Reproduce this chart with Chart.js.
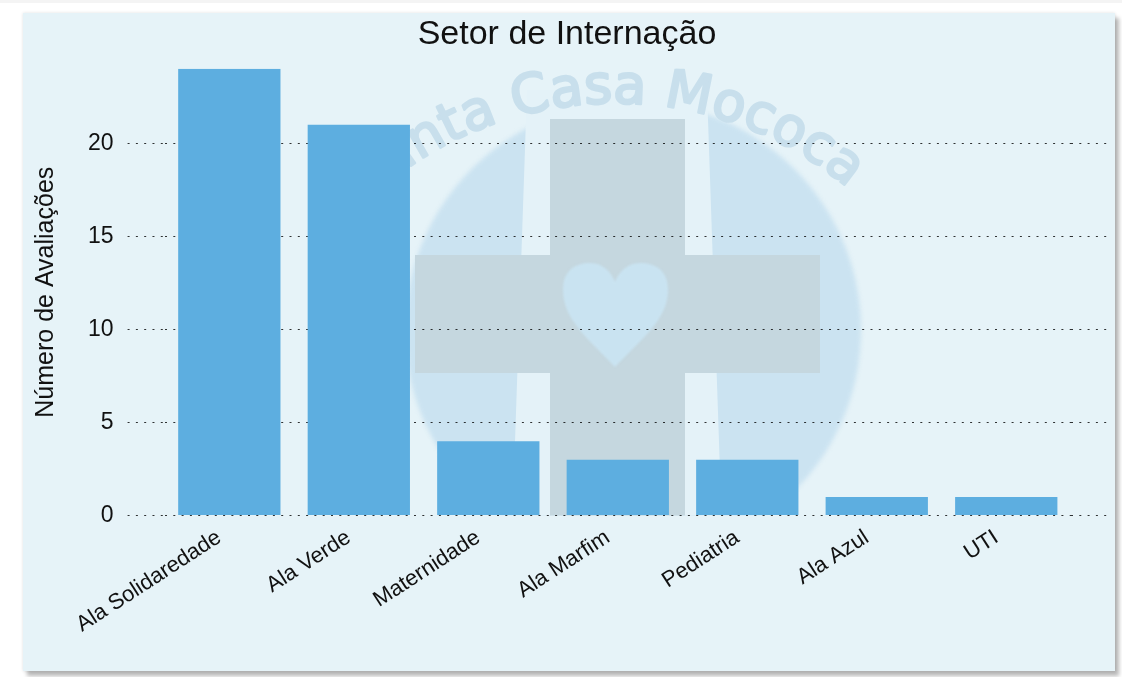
<!DOCTYPE html>
<html>
<head>
<meta charset="utf-8">
<script src="https://cdn.jsdelivr.net/npm/chart.js@4/dist/chart.umd.min.js"></script>
<style>
  html, body { margin: 0; padding: 0; background: #fff; }
  #wrap { position: relative; width: 1122px; height: 677px; overflow: hidden; }
  #topline { position: absolute; left: 0; top: 0; width: 1122px; height: 3px; background: #f4f4f4; }
  #panel {
    position: absolute; left: 23px; top: 13px; width: 1092px; height: 658px;
    background: #e6f3f8;
    box-shadow: 0 0 3px rgba(0,0,0,0.12), 4px 5px 4px rgba(0,0,0,0.28);
  }
  canvas { position: absolute; left: 0; top: 0; }
</style>
</head>
<body>
<div id="wrap">
  <div id="topline"></div>
  <div id="panel"></div>
  <canvas id="setorChart" width="1122" height="677"></canvas>
</div>
<script>
// --- dados ---
const setores = ['Ala Solidaredade', 'Ala Verde', 'Maternidade', 'Ala Marfim', 'Pediatria', 'Ala Azul', 'UTI'];
const avaliacoes = [24, 21, 4, 3, 3, 1, 1];
const yMin = 0;
const yMax = 24;
const yStep = 5;

Chart.defaults.font.family = '"Liberation Sans", Arial, sans-serif';
Chart.defaults.color = '#111';

// marca d'água (logo Santa Casa Mococa) atrás das barras
const logoPlugin = {
    id: 'logo',
    beforeDraw(chart) {
        const { ctx, chartArea: a } = chart;
        ctx.save();
        ctx.beginPath();
        ctx.rect(a.left, a.top, a.right - a.left, a.bottom - a.top);
        ctx.clip();

        // círculo
        ctx.save();
        ctx.filter = 'blur(2px)';
        ctx.fillStyle = '#cbe3f1';
        ctx.beginPath();
        ctx.arc(633, 330, 228, 0, Math.PI * 2);
        ctx.fill();
        ctx.restore();

        // faixa clara em volta da cruz
        ctx.fillStyle = '#e4f2f8';
        ctx.beginPath();
        ctx.moveTo(527, 90);
        ctx.lineTo(707, 90);
        ctx.lineTo(722, 530);
        ctx.lineTo(512, 530);
        ctx.closePath();
        ctx.fill();

        // cruz
        ctx.fillStyle = '#c5d7df';
        ctx.fillRect(550, 119, 135, 420);
        ctx.fillRect(415, 255, 405, 118);

        // coração
        ctx.save();
        ctx.filter = 'blur(1px)';
        ctx.fillStyle = '#c9e3f1';
        ctx.beginPath();
        ctx.moveTo(615, 367);
        ctx.bezierCurveTo(590, 340, 563, 320, 563, 290);
        ctx.bezierCurveTo(563, 270, 576, 263, 590, 263);
        ctx.bezierCurveTo(603, 263, 611, 272, 615, 282);
        ctx.bezierCurveTo(619, 272, 627, 263, 640, 263);
        ctx.bezierCurveTo(655, 263, 668, 270, 668, 290);
        ctx.bezierCurveTo(668, 320, 640, 340, 615, 367);
        ctx.closePath();
        ctx.fill();
        ctx.restore();

        // texto em arco
        const txt = 'Santa Casa Mococa';
        const cx = 615, cy = 465, R = 362;
        ctx.font = '54px "DejaVu Sans"';
        ctx.fillStyle = '#c8dfec';
        ctx.strokeStyle = '#c8dfec';
        ctx.lineWidth = 2.5;
        ctx.lineJoin = 'round';
        ctx.textAlign = 'center';
        ctx.textBaseline = 'alphabetic';
        const offC = ctx.measureText(txt.slice(0, txt.indexOf('C'))).width;
        const start = -16 * Math.PI / 180 - offC / R;
        for (let i = 0; i < txt.length; i++) {
            const w = ctx.measureText(txt[i]).width;
            const ang = start + (ctx.measureText(txt.slice(0, i)).width + w / 2) / R;
            ctx.save();
            ctx.translate(cx + R * Math.sin(ang), cy - R * Math.cos(ang));
            ctx.rotate(ang);
            ctx.fillText(txt[i], 0, 0);
            ctx.strokeText(txt[i], 0, 0);
            ctx.restore();
        }
        ctx.restore();
    }
};

const dots = [2, 6.3];

new Chart(document.getElementById('setorChart'), {
    type: 'bar',
    data: {
        labels: setores,
        datasets: [{
            label: 'Número de Avaliações',
            data: avaliacoes,
            backgroundColor: '#5daee0',
            borderWidth: 0,
            categoryPercentage: 1,
            barPercentage: 0.79
        }]
    },
    options: {
        responsive: false,
        animation: false,
        layout: { padding: { left: 27, right: 15, top: 0, bottom: 30 } },
        plugins: {
            legend: { display: false },
            tooltip: { enabled: false },
            title: {
                display: true,
                text: 'Setor de Internação',
                color: '#111',
                font: { size: 34, weight: 'normal' },
                padding: { top: 14, bottom: 14 }
            }
        },
        scales: {
            x: {
                grid: { display: false, drawTicks: false },
                border: { display: false },
                ticks: {
                    autoSkip: false,
                    minRotation: 33,
                    maxRotation: 33,
                    padding: 9,
                    labelOffset: -10,
                    color: '#111',
                    font: { size: 22 }
                }
            },
            y: {
                min: yMin,
                max: yMax,
                ticks: {
                    stepSize: yStep,
                    includeBounds: false,
                    padding: 14,
                    color: '#111',
                    font: { size: 23 }
                },
                grid: {
                    color: 'rgba(0,0,0,0.8)',
                    tickLength: 37,
                    tickBorderDash: dots
                },
                border: { display: false, dash: dots },
                title: {
                    display: true,
                    text: 'Número de Avaliações',
                    color: '#111',
                    font: { size: 25 },
                    padding: { top: 4, bottom: 13 }
                }
            },
            y2: {
                position: 'right',
                min: yMin,
                max: yMax,
                ticks: { display: false, stepSize: yStep, includeBounds: false },
                grid: {
                    drawOnChartArea: false,
                    color: 'rgba(0,0,0,0.8)',
                    tickLength: 36,
                    tickBorderDash: dots
                },
                border: { display: false, dash: dots }
            }
        }
    },
    plugins: [logoPlugin]
});
</script>
</body>
</html>
